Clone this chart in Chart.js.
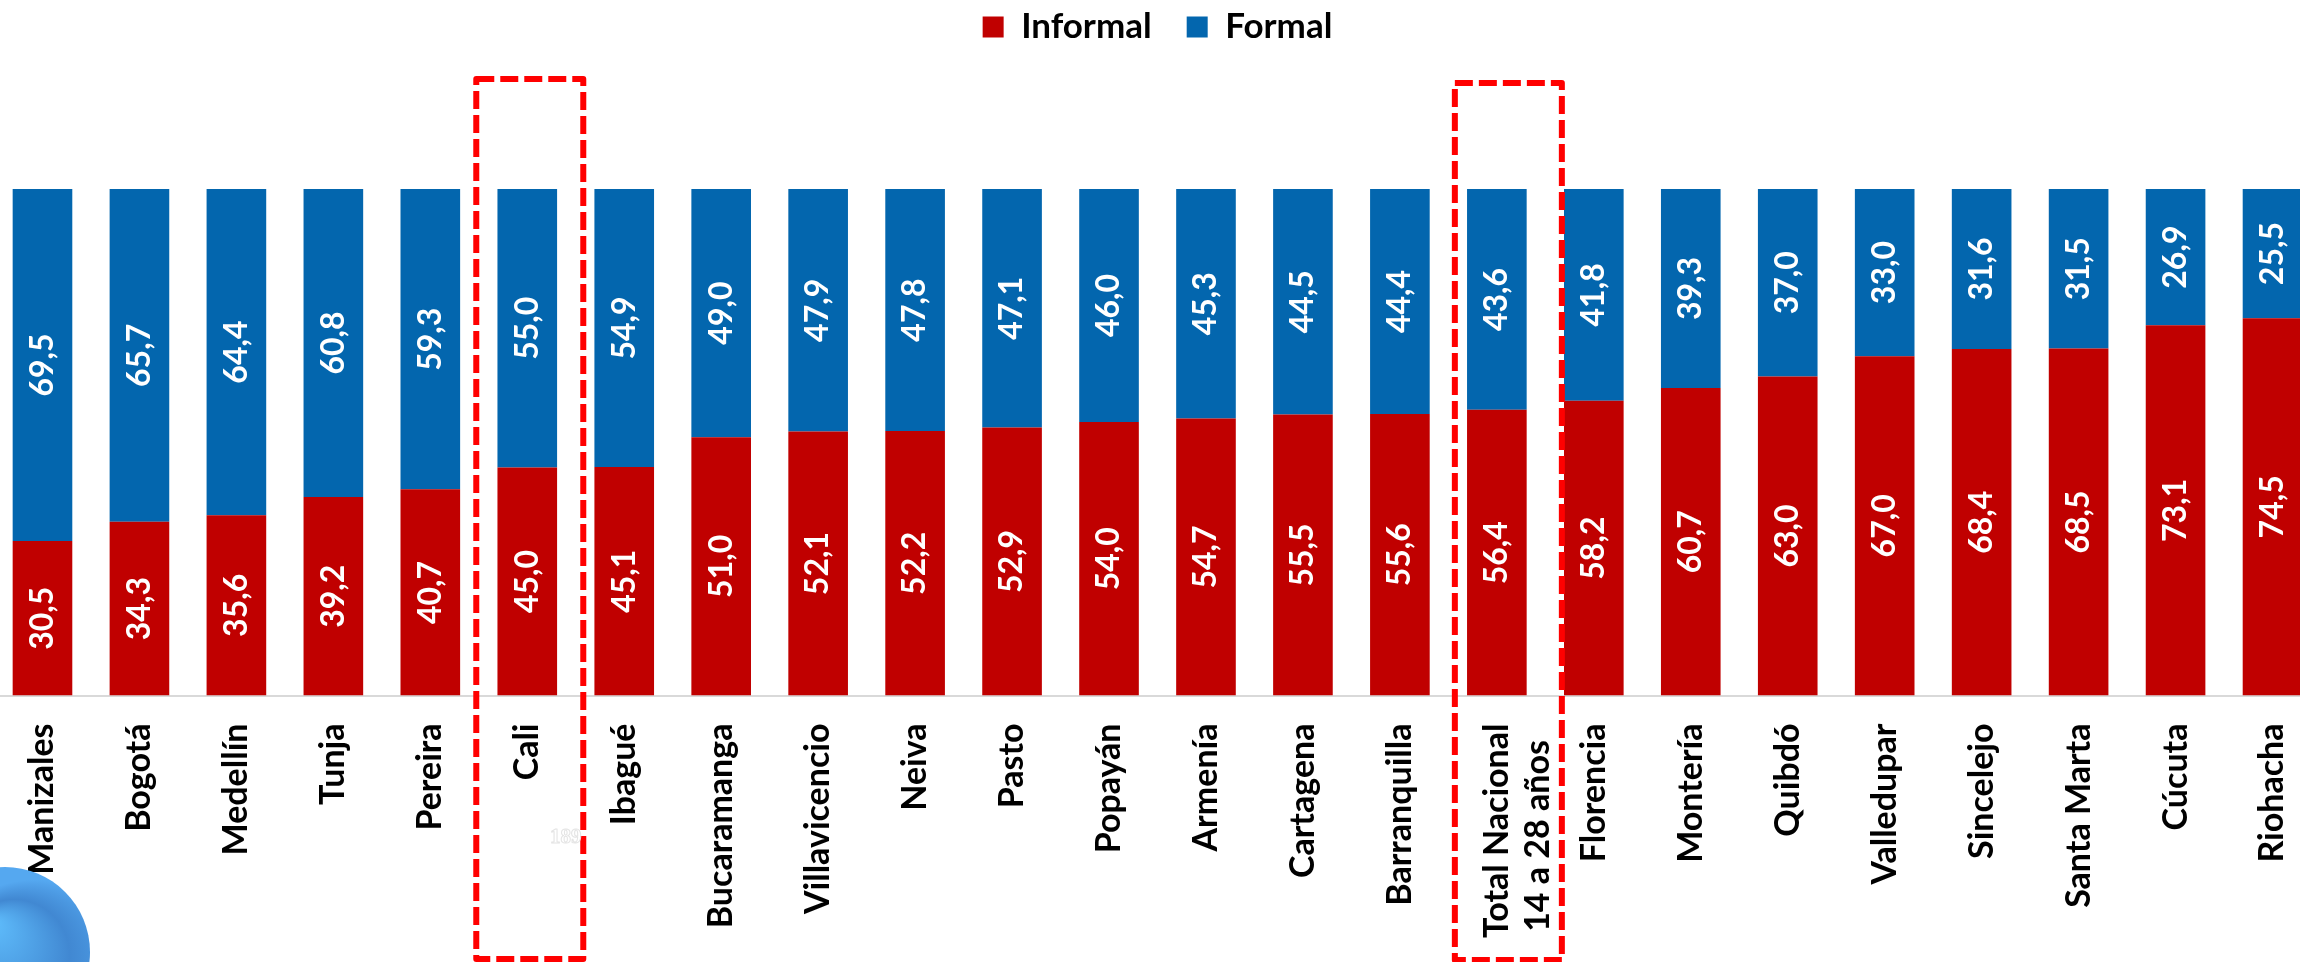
<!DOCTYPE html>
<html>
<head>
<meta charset="utf-8">
<title>Informalidad</title>
<script src="https://cdn.jsdelivr.net/npm/chart.js@4"></script>
<style>
    html, body { margin: 0; background: #fff; overflow: hidden; width: 2300px; height: 962px; }
    #chart { position: absolute; left: -6px; top: 0; }
</style>
</head>
<body>
<canvas id="chart" width="2340" height="962"></canvas>
<script>
// Data for the chart
const categories = ['Manizales', 'Bogotá', 'Medellín', 'Tunja', 'Pereira', 'Cali', 'Ibagué', 'Bucaramanga',
    'Villavicencio', 'Neiva', 'Pasto', 'Popayán', 'Armenía', 'Cartagena', 'Barranquilla',
    ['Total Nacional', '14 a 28 años  '], 'Florencia', 'Montería', 'Quibdó', 'Valledupar', 'Sincelejo',
    'Santa Marta', 'Cúcuta', 'Riohacha'];
const informal = [30.5, 34.3, 35.6, 39.2, 40.7, 45.0, 45.1, 51.0, 52.1, 52.2, 52.9, 54.0, 54.7, 55.5, 55.6,
    56.4, 58.2, 60.7, 63.0, 67.0, 68.4, 68.5, 73.1, 74.5];
const formal = [69.5, 65.7, 64.4, 60.8, 59.3, 55.0, 54.9, 49.0, 47.9, 47.8, 47.1, 46.0, 45.3, 44.5, 44.4,
    43.6, 41.8, 39.3, 37.0, 33.0, 31.6, 31.5, 26.9, 25.5];

// White rotated numbers inside the bars
const barValues = {
    id: 'barValues',
    afterDatasetsDraw(chart) {
        const ctx = chart.ctx;
        ctx.save();
        ctx.fillStyle = '#fff';
        ctx.font = 'bold 32px Lato';
        ctx.textAlign = 'center';
        ctx.textBaseline = 'middle';
        chart.data.datasets.forEach((ds, i) => {
            chart.getDatasetMeta(i).data.forEach((bar, j) => {
                const p = bar.getCenterPoint();
                ctx.save();
                ctx.translate(p.x, p.y);
                ctx.rotate(-Math.PI / 2);
                ctx.fillText(ds.data[j].toFixed(1).replace('.', ','), 0, 0);
                ctx.restore();
            });
        });
        ctx.restore();
    }
};

// Red dashed boxes round Cali and the national total, plus the stray marks of the original picture
const extras = {
    id: 'extras',
    afterDraw(chart) {
        const ctx = chart.ctx;
        const x = chart.scales.x;
        ctx.save();
        ctx.strokeStyle = '#ff0000';
        ctx.lineWidth = 6;
        ctx.lineJoin = 'round';
        ctx.setLineDash([18, 6]);
        ctx.strokeRect(x.getPixelForValue(5) - 51, 79, 107, 880);
        ctx.strokeRect(x.getPixelForValue(15) - 42, 83, 107, 877);
        ctx.setLineDash([]);

        // blue logo cut off in the bottom left corner
        const g = ctx.createRadialGradient(0, 925, 6, 40, 985, 105);
        g.addColorStop(0, '#5cb8f8');
        g.addColorStop(0.5, '#4188d2');
        g.addColorStop(1, '#55a8f0');
        ctx.fillStyle = g;
        ctx.beginPath();
        ctx.arc(11, 952, 85, 0, Math.PI * 2);
        ctx.fill();

        ctx.strokeStyle = '#e4e4e4';
        ctx.lineWidth = 1;
        ctx.font = 'bold 21px Liberation Serif';
        ctx.strokeText('189', 556, 838);
        ctx.restore();
    }
};

// Pushes the plot down below the legend
const legendGap = {
    id: 'legendGap',
    beforeInit(chart) {
        const fit = chart.legend.fit;
        chart.legend.fit = function () {
            fit.call(this);
            this.height += 134.5;
        };
    }
};

new Chart(document.getElementById('chart').getContext('2d'), {
    type: 'bar',
    data: {
        labels: categories,
        datasets: [
            { label: 'Informal', data: informal, backgroundColor: '#c00000', stack: 's' },
            { label: 'Formal', data: formal, backgroundColor: '#0366ae', stack: 's' }
        ]
    },
    options: {
        responsive: false,
        animation: false,
        categoryPercentage: 1,
        barPercentage: 0.615,
        layout: { padding: { top: -25.5, right: 13, left: 0, bottom: 0 } },
        plugins: {
            tooltip: { enabled: false },
            legend: {
                position: 'top',
                labels: {
                    boxWidth: 21,
                    boxHeight: 21,
                    padding: 35,
                    color: '#000',
                    font: { family: 'Lato', weight: 'bold', size: 35 }
                }
            }
        },
        scales: {
            x: {
                stacked: true,
                grid: { display: false },
                border: { color: '#d9d9d9', width: 2 },
                afterFit(scale) { scale.height = 266.5; },
                ticks: {
                    autoSkip: false,
                    minRotation: 90,
                    maxRotation: 90,
                    padding: 20,
                    color: '#000',
                    font: { family: 'Lato', weight: 'bold', size: 34 }
                }
            },
            y: { stacked: true, display: false, min: 0, max: 100 }
        }
    },
    plugins: [legendGap, barValues, extras]
});
</script>
</body>
</html>
